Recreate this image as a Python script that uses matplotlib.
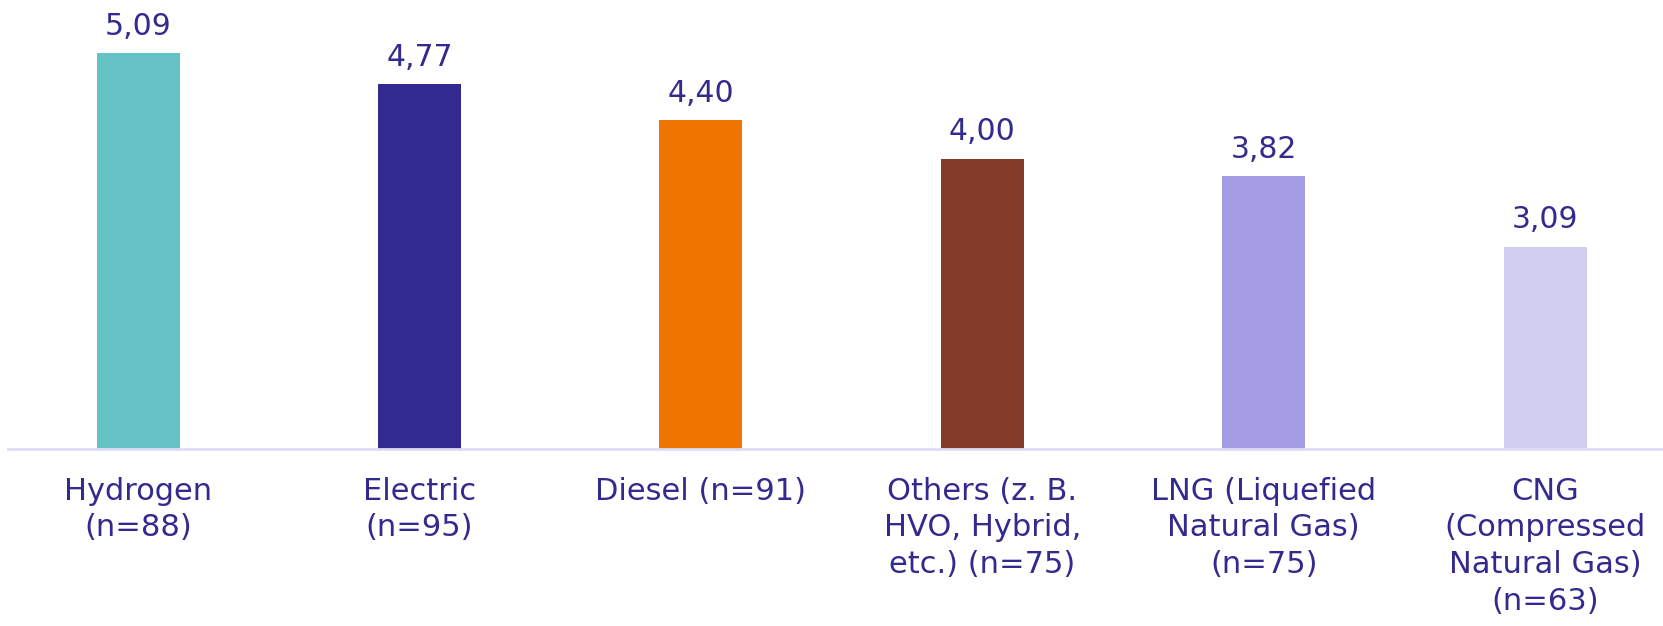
import numpy as np
import matplotlib
matplotlib.use("Agg")
import matplotlib.pyplot as plt

## data
categories = [
    "Hydrogen\n(n=88)",
    "Electric\n(n=95)",
    "Diesel (n=91)",
    "Others (z. B.\nHVO, Hybrid,\netc.) (n=75)",
    "LNG (Liquefied\nNatural Gas)\n(n=75)",
    "CNG\n(Compressed\nNatural Gas)\n(n=63)",
]
values = [5.09, 4.77, 4.40, 4.00, 3.82, 3.09]
colors = ["#65C3C8", "#332A8F", "#F07400", "#833A28", "#A39CE2", "#D2CEEF"]

text_color = "#332A8F"
plt.rcParams["font.family"] = ["DejaVu Sans"]

fig = plt.figure(figsize=(16.63, 6.26), dpi=100)
ax = fig.add_axes([8 / 1663, 177 / 626, 1655 / 1663, 449 / 626])

x = np.arange(len(values))
bars = ax.bar(x, values, width=0.295, color=colors, zorder=2)

## value labels with comma decimals
for rect, v in zip(bars, values):
    ax.annotate(f"{v:.2f}".replace(".", ","),
                xy=(rect.get_x() + rect.get_width() / 2, v),
                xytext=(0, 9), textcoords="offset points",
                ha="center", va="bottom", fontsize=21.5, color=text_color)

## axis settings
ax.set_xlim(-0.462, 5.419)
ax.set_ylim(1, 1 + 449 / 96.7)
ax.set_xticks(x)
ax.set_xticklabels(categories, fontsize=22, color=text_color, linespacing=1.33,
                   va="top", ha="center")
ax.tick_params(axis="x", length=0, pad=20)
ax.set_yticks([])
for side in ["top", "right", "left"]:
    ax.spines[side].set_visible(False)
ax.spines["bottom"].set_color("#DFDDF4")
ax.spines["bottom"].set_linewidth(2)

fig.savefig("out.png", dpi=100, facecolor="white")
